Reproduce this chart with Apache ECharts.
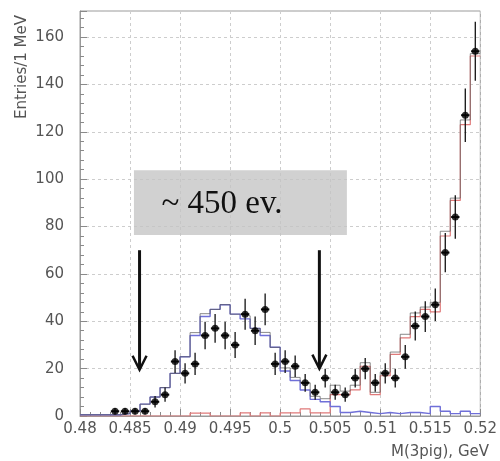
<!DOCTYPE html>
<html>
<head>
<meta charset="utf-8">
<script src="https://cdn.jsdelivr.net/npm/echarts@6/dist/echarts.min.js"></script>
<style>
  html, body { margin: 0; padding: 0; background: #fff; }
  #chart { width: 500px; height: 461px; }
</style>
</head>
<body>
<div id="chart"></div>
<script>
// 40 bins of 1 MeV from 0.480 to 0.520 GeV
const binStart = 0.480;
const binWidth = 0.001;

// Measured entries per bin (null = empty bin)
const dataCounts = [null, null, null, 2, 2, 2, 2, 6, 9, 23,
                    18, 22, 34, 37, 34, 30, 43, 36, 45, 22,
                    23, 21, 14, 10, 16, 10, 9, 16, 20, 14,
                    18, 16, 25, 38, 42, 47, 69, 84, 127, 154];

// Signal simulation (blue)
const signalMC = [0.5, 0.5, 0.5, 0.5, 1, 2, 5, 8, 12, 18,
                  25, 34, 42, 45, 47, 43, 41, 37, 34, 29,
                  19, 15, 11, 7, 6, 4, 1.5, 2, 1.5, 1,
                  1.5, 1, 1.5, 1.5, 1, 4, 2, 1, 2, 1];

// Background simulation (red)
const backgroundMC = [0, 0, 0, 0, 0, 0, 0, 0, 0, 0,
                      0, 1.2, 1.2, 0, 0, 0, 1.3, 0, 1.3, 0,
                      1.3, 1.3, 3, 1.3, 1.3, 9, 9, 11, 21, 9,
                      17, 26, 33, 42, 45, 44, 76, 91, 123, 152];

// Axis ticks
const xTickValues = [0.48, 0.485, 0.49, 0.495, 0.5, 0.505, 0.51, 0.515, 0.52];
const yTickValues = [0, 20, 40, 60, 80, 100, 120, 140, 160];

const yTop = 171;
const annotationText = '~ 450 ev.';
const yTitle = 'Entries/1 MeV';
const xTitle = 'M(3pig), GeV';

// Step outline of a binned histogram through the bin edges
function stepLine(values) {
  const pts = [];
  for (let i = 0; i <= values.length; i++) {
    const v = values[Math.min(i, values.length - 1)];
    pts.push([+(binStart + i * binWidth).toFixed(4), v]);
  }
  return pts;
}
const totalMC = signalMC.map((v, i) => v + backgroundMC[i]);

const points = [];
dataCounts.forEach((n, i) => {
  if (n === null) return;
  points.push([+(binStart + (i + 0.5) * binWidth).toFixed(4), n, Math.sqrt(n)]);
});

const chart = echarts.init(document.getElementById('chart'), null, { renderer: 'canvas' });

const labelFont = { fontFamily: 'DejaVu Sans', fontSize: 15, color: '#555' };

const option = {
  animation: false,
  backgroundColor: '#fff',
  grid: { left: 80, right: 12, top: 11, bottom: 45, show: true, borderColor: '#9a9a9a', borderWidth: 1 },
  xAxis: {
    type: 'value', min: 0.48, max: 0.52, interval: 0.005,
    axisLine: { show: true, lineStyle: { color: '#9a9a9a' } },
    axisTick: { show: true, inside: true, length: 7, lineStyle: { color: '#8a8a8a' } },
    minorTick: { show: true, splitNumber: 5, length: 4, lineStyle: { color: '#8a8a8a' } },
    splitLine: { show: true, lineStyle: { color: '#cdcdcd', type: [3, 3] } },
    axisLabel: Object.assign({
      margin: 6,
      formatter: v => {
        const r = Math.round(v * 1000) / 1000;
        return xTickValues.some(t => Math.abs(t - r) < 1e-9) ? String(r) : '';
      }
    }, labelFont)
  },
  yAxis: {
    type: 'value', min: 0, max: yTop, interval: 20,
    axisLine: { show: true, lineStyle: { color: '#9a9a9a' } },
    axisTick: { show: true, inside: true, length: 7, lineStyle: { color: '#8a8a8a' } },
    minorTick: { show: true, splitNumber: 5, length: 4, lineStyle: { color: '#8a8a8a' } },
    splitLine: { show: true, lineStyle: { color: '#cdcdcd', type: [3, 3] } },
    axisLabel: Object.assign({
      margin: 16,
      formatter: v => yTickValues.indexOf(v) >= 0 ? String(v) : ''
    }, labelFont)
  },
  series: [
    {
      name: 'background', type: 'line', step: 'end', data: stepLine(backgroundMC),
      symbol: 'none', z: 3,
      lineStyle: { color: '#e07a7a', width: 1.2 }
    },
    {
      name: 'signal', type: 'line', step: 'end', data: stepLine(signalMC),
      symbol: 'none', z: 3,
      lineStyle: { color: '#6f6fd8', width: 1.4 },
      markArea: {
        silent: true,
        itemStyle: { color: 'rgba(196,196,196,0.78)' },
        data: [[{ coord: [0.48539, 103.8] }, { coord: [0.50667, 76.4] }]]
      }
    },
    {
      name: 'total', type: 'line', step: 'end', data: stepLine(totalMC),
      symbol: 'none', z: 4,
      lineStyle: { color: '#5a5a5a', width: 0.9, opacity: 0.8 }
    },
    {
      name: 'errors', type: 'custom', z: 6,
      data: points,
      renderItem: (params, api) => {
        const x = api.value(0), y = api.value(1), e = api.value(2);
        const top = api.coord([x, y + e]);
        const bot = api.coord([x, Math.max(0, y - e)]);
        const l = api.coord([x - 0.00042, y]);
        const r = api.coord([x + 0.00042, y]);
        const st = { stroke: '#111', lineWidth: 1.3 };
        return {
          type: 'group',
          children: [
            { type: 'line', shape: { x1: top[0], y1: top[1], x2: bot[0], y2: bot[1] }, style: st },
            { type: 'line', shape: { x1: l[0], y1: l[1], x2: r[0], y2: r[1] }, style: { stroke: '#111', lineWidth: 2 } }
          ]
        };
      }
    },
    {
      name: 'data', type: 'scatter', z: 7,
      data: points.map(p => [p[0], p[1]]),
      symbol: 'circle', symbolSize: 7,
      itemStyle: { color: '#000' }
    }
  ]
};
chart.setOption(option);

// Annotations placed in data coordinates
const P = (x, y) => chart.convertToPixel({ gridIndex: 0 }, [x, y]);
function arrow(x, yFrom, yTo) {
  const a = P(x, yFrom), b = P(x, yTo);
  return [
    { type: 'line', shape: { x1: a[0], y1: a[1], x2: b[0], y2: b[1] - 1 }, style: { stroke: '#111', lineWidth: 3 }, z: 20 },
    { type: 'polyline', shape: { points: [[b[0] - 7, b[1] - 14], [b[0], b[1]], [b[0] + 7, b[1] - 14]] },
      style: { stroke: '#111', lineWidth: 2.5, fill: null }, z: 20 }
  ];
}
const tPos = P(0.48814, 89.2);
chart.setOption({
  graphic: [
    ...arrow(0.48595, 70, 19.5),
    ...arrow(0.50392, 70, 20),
    { type: 'text', x: tPos[0], y: tPos[1], z: 21,
      style: { text: annotationText, font: '33px "Liberation Serif"', fill: '#111', textAlign: 'left', textVerticalAlign: 'middle' } },
    { type: 'text', x: 22, y: 67, rotation: Math.PI / 2, z: 21,
      style: { text: yTitle, font: '15px "DejaVu Sans"', fill: '#555', textAlign: 'center', textVerticalAlign: 'middle' } },
    { type: 'text', x: 489, y: 452, z: 21,
      style: { text: xTitle, font: '15px "DejaVu Sans"', fill: '#555', textAlign: 'right', textVerticalAlign: 'middle' } }
  ]
});
</script>
</body>
</html>
